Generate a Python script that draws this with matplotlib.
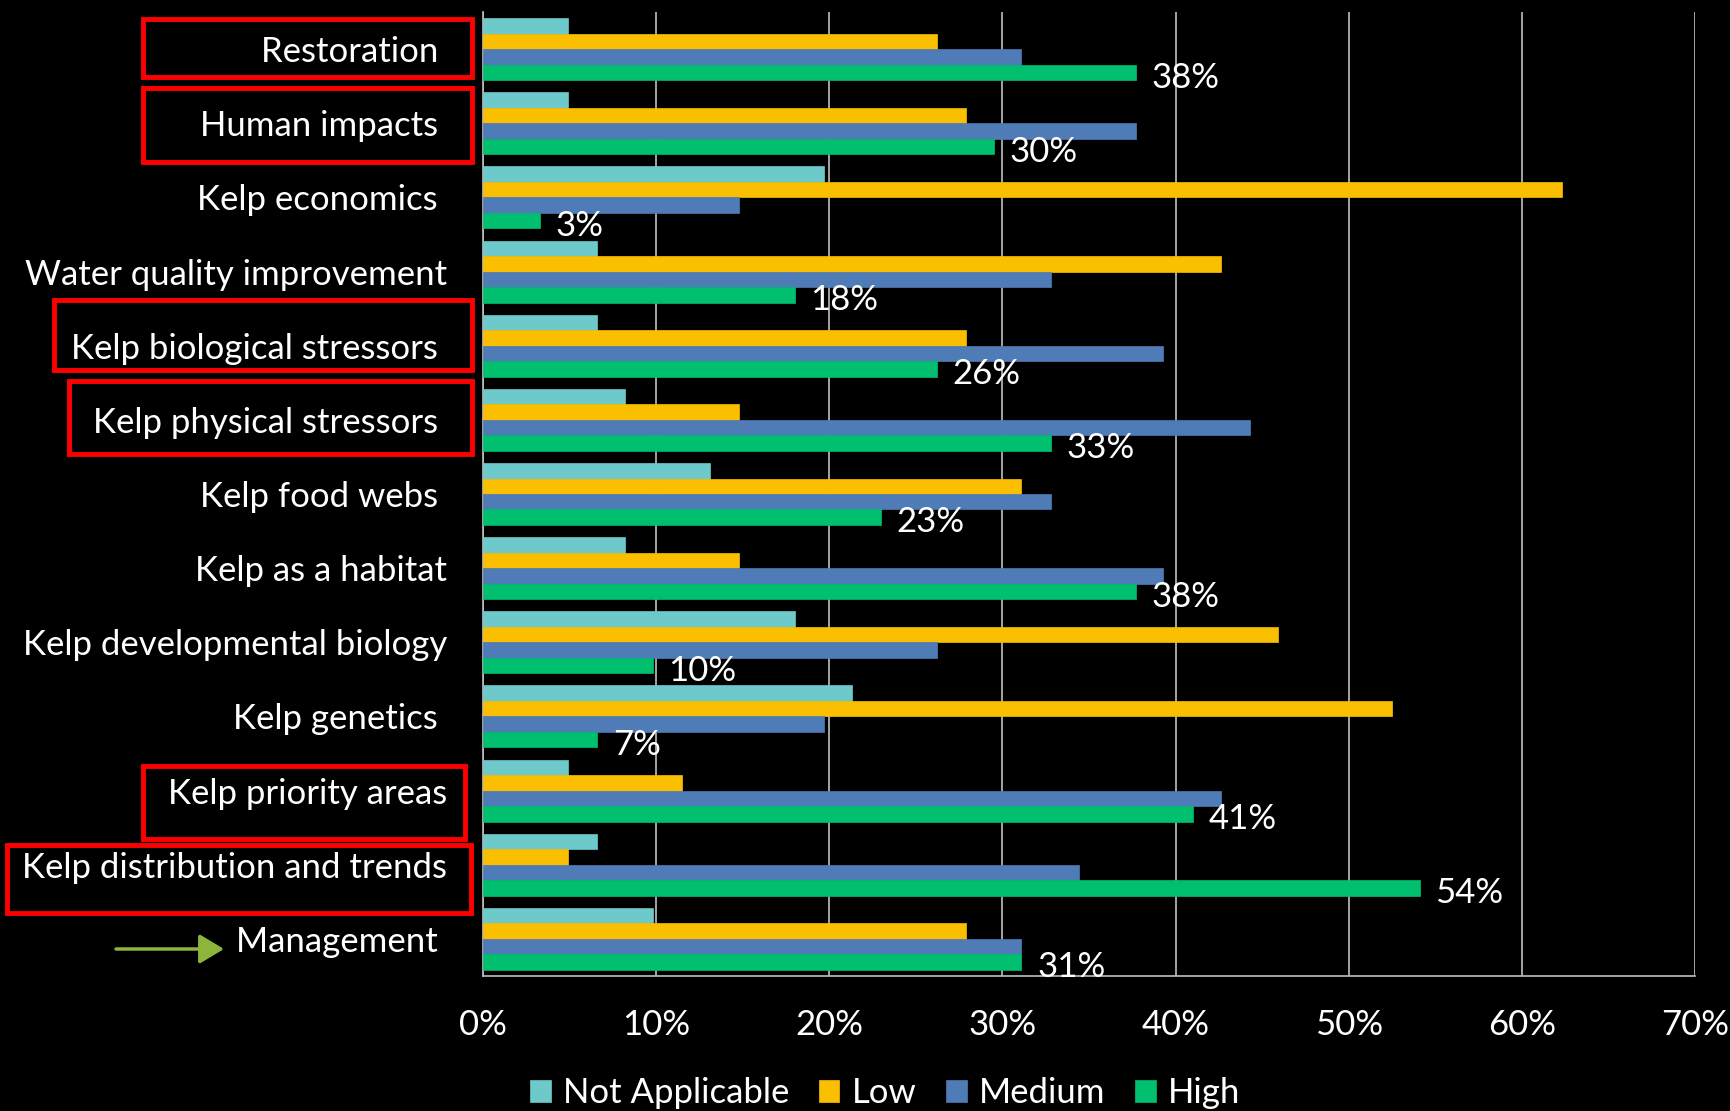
import matplotlib
matplotlib.use("Agg")
import matplotlib.pyplot as plt
from matplotlib.patches import Rectangle, FancyArrowPatch
import numpy as np

categories = ["Restoration ", "Human impacts ", "Kelp economics ", "Water quality improvement",
              "Kelp biological stressors ", "Kelp physical stressors ", "Kelp food webs ",
              "Kelp as a habitat", "Kelp developmental biology", "Kelp genetics ",
              "Kelp priority areas", "Kelp distribution and trends", "Management "]
not_applicable = [4.9, 4.9, 19.7, 6.6, 6.6, 8.2, 13.1, 8.2, 18.0, 21.3, 4.9, 6.6, 9.8]
low = [26.2, 27.9, 62.3, 42.6, 27.9, 14.8, 31.1, 14.8, 45.9, 52.5, 11.5, 4.9, 27.9]
medium = [31.1, 37.7, 14.8, 32.8, 39.3, 44.3, 32.8, 39.3, 26.2, 19.7, 42.6, 34.4, 31.1]
high = [37.7, 29.5, 3.3, 18.0, 26.2, 32.8, 23.0, 37.7, 9.8, 6.6, 41.0, 54.1, 31.1]
series_names = ["Not Applicable", "Low", "Medium", "High"]
colors = ["#6DC9CA", "#FABF00", "#4F7CB6", "#00BF6E"]
xticks = [0, 10, 20, 30, 40, 50, 60, 70]
xticklabels = ["0%", "10%", "20%", "30%", "40%", "50%", "60%", "70%"]

FONT = "Lato"
FS = 25
plt.rcParams['font.family'] = [FONT, 'DejaVu Sans']

W, H = 1731, 1111
fig = plt.figure(figsize=(W / 100, H / 100), dpi=100, facecolor="black")
ax = fig.add_axes([483 / W, 1 - 976 / H, (1695 - 483) / W, (976 - 12) / H])
ax.set_facecolor("black")

y = np.arange(len(categories))
h = 0.209
all_series = [not_applicable, low, medium, high]
for k, (vals, col, name) in enumerate(zip(all_series, colors, series_names)):
    off = (k - 1.5) * h
    ax.barh(y + off, vals, height=h, color=col, label=name, zorder=3,
            edgecolor=col, linewidth=0.5)

for i, v in enumerate(high):
    ax.text(v + 0.9, y[i] + 1.5 * h + 0.07, f"{round(v)}%", color="white",
            fontsize=FS, va="center", ha="left", zorder=4)

ax.set_xlim(0, 70)
ax.set_ylim(len(categories) - 0.5, -0.5)
ax.set_xticks(xticks)
ax.set_xticklabels(xticklabels)
ax.set_yticks(y)
ax.set_yticklabels(categories)
ax.tick_params(axis="both", length=0, colors="white", labelsize=FS)
ax.tick_params(axis="x", pad=24)
ax.tick_params(axis="y", pad=26)
ax.xaxis.grid(True, color="#BFBFBF", linewidth=1.2, zorder=0)
for s in ["top", "right"]:
    ax.spines[s].set_visible(False)
ax.spines["left"].set_color("#BFBFBF")
ax.spines["bottom"].set_color("#BFBFBF")
ax.spines["left"].set_linewidth(1.2)
ax.spines["bottom"].set_linewidth(1.2)

leg = fig.legend(loc="center", bbox_to_anchor=(885 / W, 1 - 1093 / H), ncol=4,
                 frameon=False, fontsize=FS, handlelength=0.6, handleheight=0.6,
                 handletextpad=0.35, columnspacing=0.85)
for t in leg.get_texts():
    t.set_color("white")

# red highlight boxes (figure pixel coordinates)
boxes = [(143.5, 18.8, 472.5, 77.3), (143.5, 88.3, 472.5, 162.3),
         (54.1, 300.3, 472.5, 369.8), (69.5, 380.9, 472.5, 453.7),
         (143.5, 766.1, 464.8, 839.0), (6.6, 844.5, 471.4, 913.0)]
for x0, y0, x1, y1 in boxes:
    fig.patches.append(Rectangle((x0 / W, 1 - y1 / H), (x1 - x0) / W, (y1 - y0) / H,
                                 transform=fig.transFigure, fill=False,
                                 edgecolor="#FF0000", linewidth=3.5))

arrow = FancyArrowPatch((116 / W, 1 - 949 / H), (224 / W, 1 - 949 / H),
                        transform=fig.transFigure, arrowstyle="-|>,head_length=10,head_width=6",
                        color="#8DB53C", linewidth=2.5, mutation_scale=1.5,
                        shrinkA=0, shrinkB=0)
fig.patches.append(arrow)

fig.savefig("out.png", dpi=100, facecolor="black")
